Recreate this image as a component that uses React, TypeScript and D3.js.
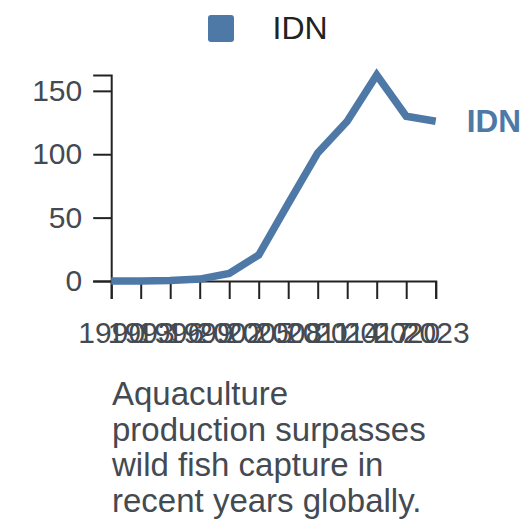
import React, { useEffect, useRef } from "react";
import * as d3 from "d3";

const years = [1990, 1993, 1996, 1999, 2002, 2005, 2008, 2011, 2014, 2017, 2020, 2023];
const values = [0, 0, 0.3, 1.5, 6, 20.5, 61, 101, 126, 162.5, 130, 126];
const seriesName = "IDN";
const yTicks = [0, 50, 100, 150];
const annotation = ["Aquaculture", "production surpasses", "wild fish capture in", "recent years globally."];

const W = 528, H = 528;
const COLOR = "#4e79a7";
const FONT = "'Liberation Sans', Arial, sans-serif";

export default function App() {
  const xRef = useRef<SVGGElement>(null);
  const yRef = useRef<SVGGElement>(null);

  const x = d3.scaleLinear().domain([years[0], years[years.length - 1]]).range([111.2, 435.7]);
  const y = d3.scaleLinear().domain([0, d3.max(values)!]).range([281, 75]);

  const line = d3.line<number>().x((_, i) => x(years[i])).y((d) => y(d));

  useEffect(() => {
    if (xRef.current) {
      const g = d3.select(xRef.current);
      g.call(d3.axisBottom(x).tickValues(years).tickFormat(d3.format("d")).tickSize(18).tickPadding(23));
      g.selectAll("text").attr("font-size", 30).attr("font-family", FONT).attr("fill", "#444a52");
      g.selectAll("line").attr("stroke", "#222").attr("stroke-width", 2);
      g.select(".domain").attr("stroke", "#222").attr("stroke-width", 2);
    }
    if (yRef.current) {
      const g = d3.select(yRef.current);
      g.call(d3.axisLeft(y).tickValues(yTicks).tickSize(18).tickPadding(11));
      g.selectAll("text").attr("font-size", 30).attr("font-family", FONT).attr("fill", "#444a52");
      g.selectAll("line").attr("stroke", "#222").attr("stroke-width", 2);
      g.select(".domain").attr("stroke", "#222").attr("stroke-width", 2);
    }
  }, []);

  const last = values.length - 1;

  return (
    <svg width={W} height={H} style={{ position: "absolute", left: 0, top: 0 }} fontFamily={FONT}>
      <rect x={208} y={15} width={26} height={27} rx={3} fill={COLOR} />
      <text x={272.5} y={39} fontSize={32} fill="#222">{seriesName}</text>
      <g ref={xRef} transform={`translate(0,${y(0)})`} />
      <g ref={yRef} transform={`translate(${x(years[0])},0)`} />
      <path d={line(values) || ""} fill="none" stroke={COLOR} strokeWidth={7.5} strokeLinejoin="miter" />
      <text x={x(years[last]) + 31} y={y(values[last])} dy="0.35em" fontSize={31.5} fontWeight="bold" fill={COLOR}>
        {seriesName}
      </text>
      <text x={112} y={405} fontSize={33} fill="#444a52">
        {annotation.map((t, i) => (
          <tspan key={i} x={112} dy={i === 0 ? 0 : 35.5}>{t}</tspan>
        ))}
      </text>
    </svg>
  );
}
